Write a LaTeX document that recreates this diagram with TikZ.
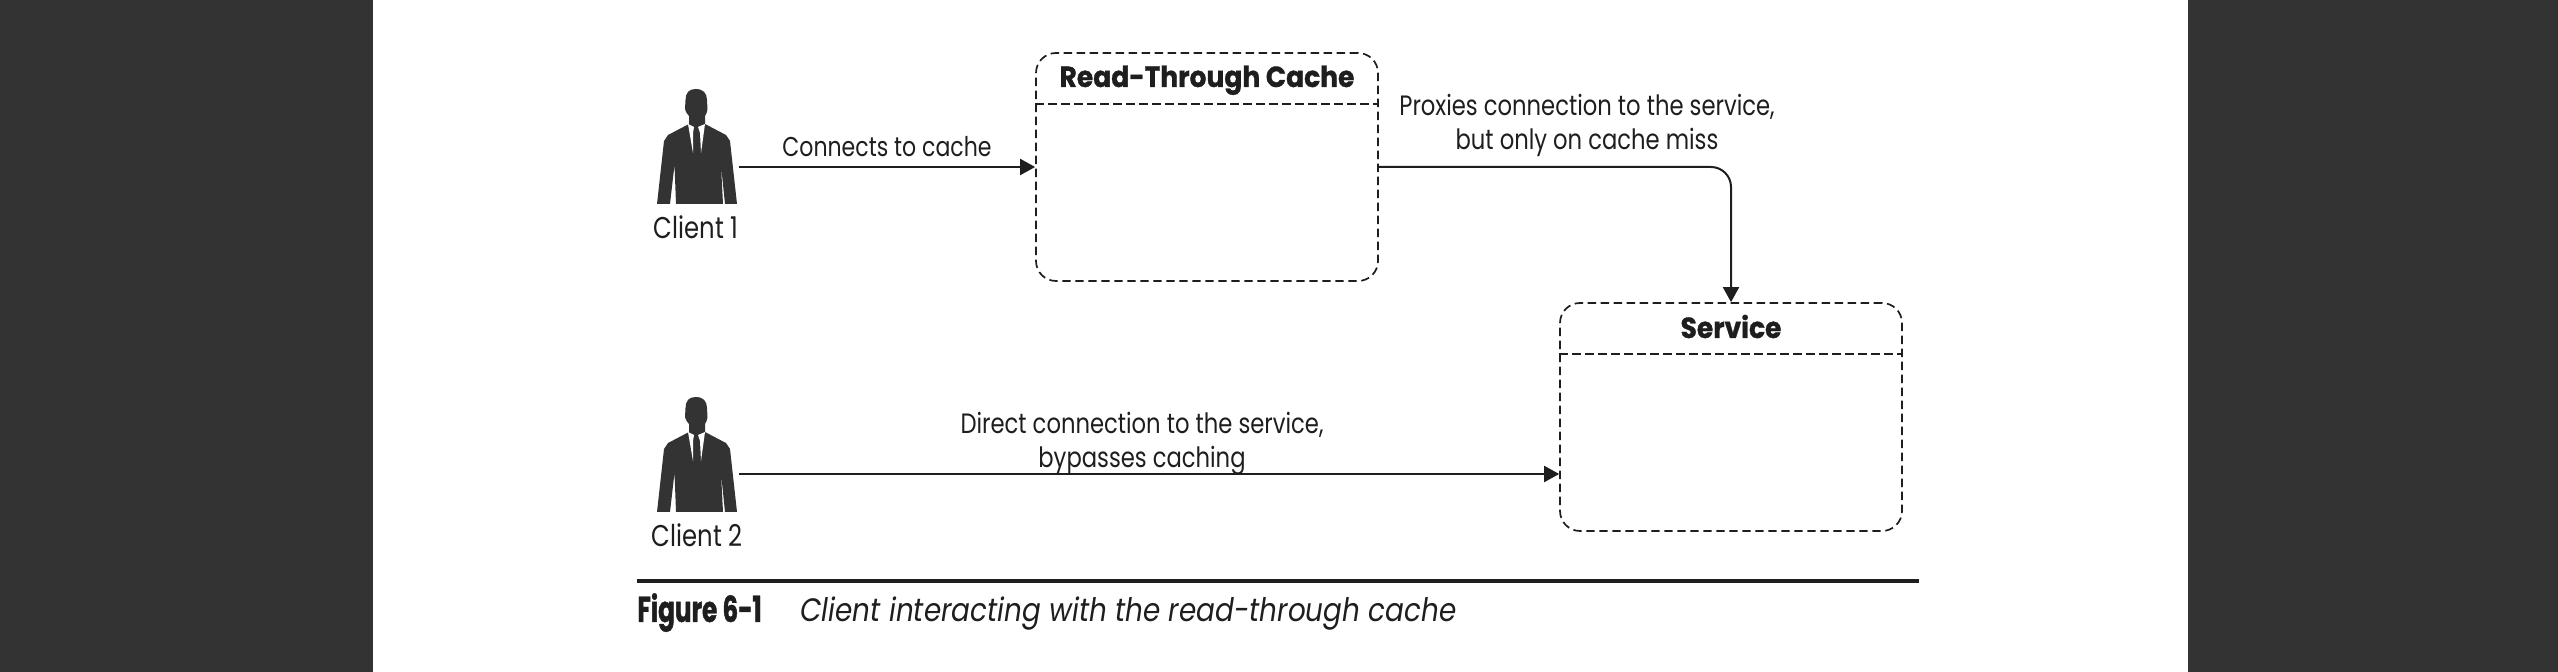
\documentclass[tikz,border=0pt]{standalone}
\usepackage{fontspec}
\setmainfont[FakeStretch=0.81]{Poppins}
\newfontfamily\capfont[FakeStretch=0.86]{Poppins}
\newfontfamily\titlefont[FakeStretch=0.915,BoldFeatures={FakeBold=1}]{Poppins}
\newfontfamily\figfont[FakeStretch=0.685,BoldFeatures={FakeBold=1}]{Poppins}
\usetikzlibrary{arrows.meta}
\definecolor{barfill}{HTML}{333333}
\definecolor{inkfill}{HTML}{1E1E1E}
\tikzset{
  person/.pic={
    \fill[barfill] (-1.5,0) .. controls (-8,0) and (-11.5,4) .. (-11.5,11) -- (-12,20) .. controls (-11,24) and (-9.5,25) .. (-8,27)
      -- (-8,35) -- (-29,46) -- (-33,52) -- (-40,115) -- (-27,115) -- (-22.5,76) -- (-21,115) -- (26,115) -- (24,76) -- (28,115) -- (40,115)
      -- (33,52) -- (29,46) -- (8,35) -- (8,27) .. controls (9,25) and (10,24) .. (10.5,20) -- (10,11) .. controls (10,4) and (6,0) .. (-1.5,0) -- cycle;
    \fill[white] (-9,35) -- (-3,38) -- (-4,44) -- (-4,64) -- cycle;
    \fill[white] (8,35) -- (1,38) -- (3,44) -- (4,64) -- cycle;
  }
}
\begin{document}
\begin{tikzpicture}[x=0.5pt, y=-0.5pt, >={Triangle[length=7.5pt,width=8pt]}]
        \tikzstyle{every node}=[text=inkfill,inner sep=0pt,font=\fontsize{14}{17}\selectfont]
        \tikzstyle{clientname}=[font=\fontsize{15}{17}\selectfont]
        \tikzstyle{box}=[draw=inkfill,dashed,dash pattern=on 4.2pt off 2.3pt,line width=0.85pt,rounded corners=10pt,minimum width=171pt,minimum height=114pt]
        \tikzstyle{boxtitle}=[anchor=base,font=\fontsize{14.5}{17}\titlefont\bfseries\selectfont]
        \tikzstyle{divider}=[draw=inkfill,dashed,dash pattern=on 4.2pt off 2.3pt,line width=0.85pt]
        \tikzstyle{link}=[draw=inkfill,line width=1pt,->]

        \useasboundingbox (0,0) rectangle (2558,672);
        \fill[barfill] (0,0) rectangle (373,672);
        \fill[barfill] (2188,0) rectangle (2558,672);

% clients
        \pic at (697,89) {person};
        \pic at (697,397) {person};
        \node[clientname] (client1) at (696,227) {Client 1};
        \node[clientname] (client2) at (697,535) {Client 2};
        \coordinate (out1) at (739,167);
        \coordinate (out2) at (739,474);

% boxes
        \node[box] (cache) at (1207,167) {};
        \node[box] (service) at (1731,417) {};
        \node[boxtitle] (cachetitle) at (1207,87) {Read-Through Cache};
        \node[boxtitle] (servicetitle) at (1731,338) {Service};
        \draw[divider] ([yshift=-26pt]cache.north west) -- ([yshift=-26pt]cache.north east);
        \draw[divider] ([yshift=-26pt]service.north west) -- ([yshift=-26pt]service.north east);

% links
        \draw[link] (out1) -- (cache.west);
        \draw[link,rounded corners=10pt] (cache.east) -| (service.north);
        \draw[link] (out2) -- (out2 -| service.west);
        \node[font=\fontsize{13.6}{17}\selectfont] (conn) at (887,147) {Connects to cache};
        \node[align=center] (proxy) at (1587,125.5) {Proxies connection to the service,\\but only on cache miss};
        \node[align=center] (direct) at (1142,444) {Direct connection to the service,\\bypasses caching};

% caption
        \draw[draw=inkfill,line width=2pt] (637,581.5) -- (1919,581.5);
        \node[anchor=base west,font=\fontsize{18}{17}\figfont\bfseries\selectfont] (fignum) at (637,622) {Figure 6-1};
        \node[anchor=base west,font=\fontsize{16.2}{17}\capfont\itshape\selectfont] (figtext) at (800,622) {Client interacting with the read-through cache};
\end{tikzpicture}
\end{document}
